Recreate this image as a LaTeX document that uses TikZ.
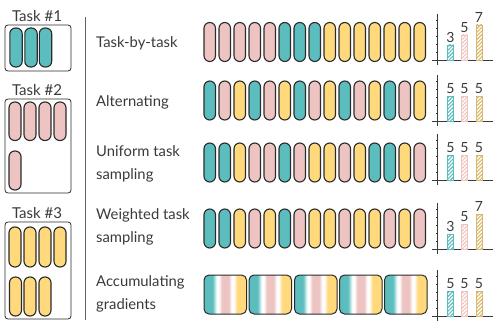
\documentclass[tikz,border=0pt]{standalone}
\usepackage{fontspec}
\setmainfont{Lato}
\usetikzlibrary{patterns.meta}
\definecolor{cT}{HTML}{5CBDBE}
\definecolor{cP}{HTML}{EDC4C1}
\definecolor{cY}{HTML}{FFD97C}
\definecolor{cO}{HTML}{2B2B2B}
\definecolor{cTxt}{HTML}{3A3A3A}
\pgfdeclarehorizontalshading{accum}{100bp}{color(0bp)=(cT); color(25bp)=(cT); color(35bp)=(cT); color(40bp)=(white); color(42.5bp)=(white); color(46bp)=(cP); color(54bp)=(cP); color(57.5bp)=(white); color(60bp)=(white); color(64bp)=(cY); color(75bp)=(cY); color(100bp)=(cY)}
\tikzset{
  pill/.style={draw=cO, line width=1.1pt, rounded corners=5.7pt},
  taskbox/.style={draw=cO, line width=0.8pt, rounded corners=3pt},
  accbox/.style={draw=cO, line width=1pt, rounded corners=5pt, shading=accum},
  lbl/.style={text=cTxt, font=\fontsize{14.8}{23}\selectfont, anchor=west, align=left, inner sep=0pt},
  tasklbl/.style={text=cTxt, font=\fontsize{15}{18}\selectfont, inner sep=0pt},
  num/.style={text=cTxt, font=\fontsize{14}{16}\selectfont, inner sep=0pt},
  axis/.style={draw=cTxt, line width=0.7pt},
  barT/.style={draw=cT, line width=0.6pt, pattern={Lines[angle=45,distance=2.6pt,line width=1.1pt]}, pattern color=cT},
  barP/.style={draw=cP, line width=0.6pt, pattern={Lines[angle=45,distance=2.6pt,line width=1.1pt]}, pattern color=cP},
  barY/.style={draw=cY!85!black, line width=0.6pt, pattern={Lines[angle=45,distance=2.6pt,line width=1.1pt]}, pattern color=cY!85!black},
}
\begin{document}
\begin{tikzpicture}[x=1pt,y=-1pt]
\useasboundingbox (0,0) rectangle (498,329);
% left task pools
\node[tasklbl] (t1) at (37,16) {Task \#1};
\draw[taskbox] (5,25) rectangle (71,71);
\foreach \x in {16,31,45.5} \draw[pill, fill=cT] (\x-6.2,28) rectangle (\x+6.2,67);
\node[tasklbl] (t2) at (37,90) {Task \#2};
\draw[taskbox] (5,99) rectangle (71,193);
\foreach \x in {15,30,45,60} \draw[pill, fill=cP] (\x-6,102) rectangle (\x+6,140.5);
\draw[pill, fill=cP] (15-6,151) rectangle (15+6,190);
\node[tasklbl] (t3) at (37,213) {Task \#3};
\draw[taskbox] (5,222) rectangle (71,319);
\foreach \x in {15,30,45,60} \draw[pill, fill=cY] (\x-6,227) rectangle (\x+6,267);
\foreach \x in {15.5,30,45} \draw[pill, fill=cY] (\x-6,277) rectangle (\x+6,316);
% separator
\draw[draw=cTxt!80, line width=0.7pt] (85,17) -- (85,320);
% labels
\node[lbl] (l1) at (96,43) {Task-by-task};
\node[lbl] (l2) at (96,102) {Alternating};
\node[lbl] (l3) at (96,164) {Uniform task\\sampling};
\node[lbl] (l4) at (96,227) {Weighted task\\sampling};
\node[lbl] (l5) at (96,294) {Accumulating\\gradients};
% pill rows
\foreach \row/\cy in {{P,P,P,P,P,T,T,T,Y,Y,Y,Y,Y,Y,Y}/42,{T,P,Y,T,P,Y,T,P,Y,T,P,Y,T,P,Y}/100.5,{T,T,Y,P,P,T,P,Y,Y,P,Y,T,T,Y,P}/162.5,{T,T,Y,P,Y,T,P,Y,Y,P,Y,Y,P,Y,P}/228.5}{
  \foreach \c [count=\i from 0] in \row {
    \draw[pill, fill=c\c] (204+15*\i,\cy-19.5) rectangle (215.5+15*\i,\cy+19.5);
  }
}
% accumulating boxes
\foreach \x in {204,249,294.5,339.5,384.5}
  \draw[accbox] (\x,275) rectangle (\x+42.5,314);
% charts
\foreach \b/\va/\vb/\vc in {60/3/5/7,121/5/5/5,180/5/5/5,249/3/5/7,316/5/5/5}{
  \draw[axis] (437,\b-46) -- (437,\b+5);
  \foreach \k in {1,...,5} \draw[axis, line width=0.5pt] (436,\b-8*\k) -- (438,\b-8*\k);
  \draw[axis] (432,\b) -- (493,\b);
  \draw[barT] (447.5,\b) rectangle (453.5,\b-5*\va);
  \draw[barP] (461.5,\b) rectangle (467.5,\b-5*\vb);
  \draw[barY] (476,\b) rectangle (482,\b-5*\vc);
  \node[num] at (450.5,\b-5*\va-7.5) {\va};
  \node[num] at (464.5,\b-5*\vb-7.5) {\vb};
  \node[num] at (479,\b-5*\vc-7.5) {\vc};
}
\end{tikzpicture}
\end{document}
